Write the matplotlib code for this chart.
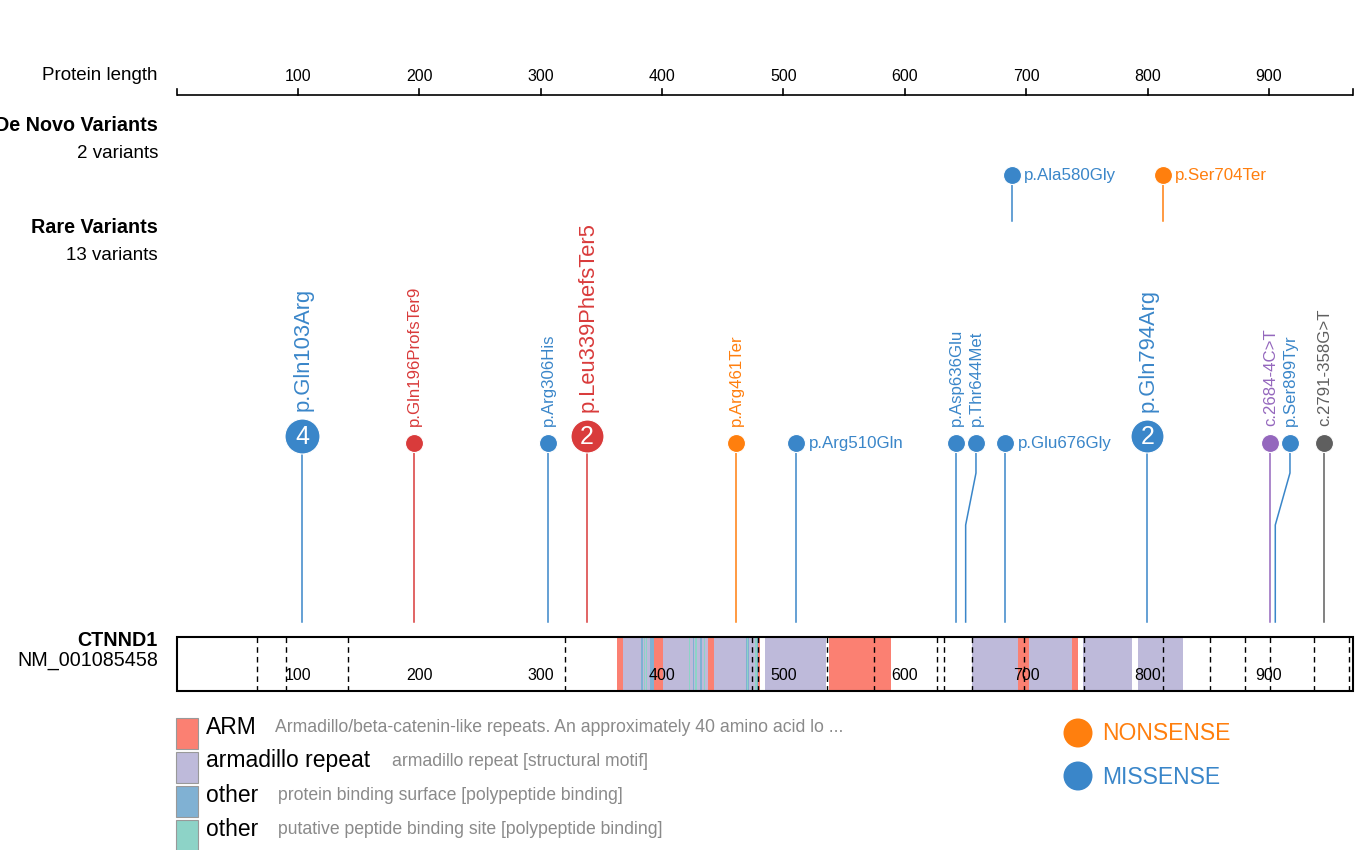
import matplotlib
matplotlib.use("Agg")
import matplotlib.pyplot as plt
from matplotlib.patches import Rectangle

plt.rcParams['font.family'] = ['Liberation Sans', 'DejaVu Sans']

# ---------------- data ----------------
PROTEIN_LENGTH = 969
GENE = "CTNND1"
TRANSCRIPT = "NM_001085458"
axis_ticks = [100, 200, 300, 400, 500, 600, 700, 800, 900]

arm_domains = [(362.6, 367.5), (393.6, 400.5), (437.5, 443.0), (478.6, 480.6),
               (537.8, 588.8), (693.4, 702.5), (737.9, 742.8)]
armadillo_repeats = [(362.6, 480.6), (484.8, 535.3), (655.5, 742.8),
                     (746.9, 787.3), (792.2, 829.3)]
binding_surface = [383.5, 391.0, 392.6, 425.8, 432.1, 469.5, 471.4, 478.0]
peptide_site = [385.4, 387.3, 422.5, 428.0, 434.8, 470.5, 477.2]
exon_boundaries = [66.0, 89.9, 141.1, 319.8, 473.8, 479.0, 535.8, 574.6,
                   626.8, 632.3, 655.4, 697.8, 747.6, 812.4, 851.1, 880.3,
                   900.9, 937.1, 966.0]

rare_labels = ["p.Gln103Arg", "p.Gln196ProfsTer9", "p.Arg306His",
               "p.Leu339PhefsTer5", "p.Arg461Ter", "p.Arg510Gln",
               "p.Asp636Glu", "p.Thr644Met", "p.Glu676Gly", "p.Gln794Arg",
               "c.2684-4C>T", "p.Ser899Tyr", "c.2791-358G>T"]
rare_positions = [103.3, 195.6, 306.0, 338.1, 460.9, 510.3,
                  642.1, 650.1, 682.3, 799.8, 901.1, 905.2, 945.1]
rare_head_positions = [103.3, 195.6, 306.0, 338.1, 460.9, 510.3,
                       642.1, 658.6, 682.3, 799.8, 901.1, 917.3, 945.1]
rare_counts = [4, 1, 1, 2, 1, 1, 1, 1, 1, 2, 1, 1, 1]
rare_types = ["missense", "frameshift", "missense", "frameshift", "nonsense",
              "missense", "missense", "missense", "missense", "missense",
              "splice", "missense", "intron"]
rare_horizontal = [False, False, False, False, False, True,
                   False, False, True, False, False, False, False]
RARE_VARIANT_TOTAL = 13

denovo_labels = ["p.Ala580Gly", "p.Ser704Ter"]
denovo_positions = [688.5, 812.8]
denovo_types = ["missense", "nonsense"]

domain_legend_names = ["ARM", "armadillo repeat", "other", "other"]
domain_legend_desc = ["Armadillo/beta-catenin-like repeats. An approximately 40 amino acid lo ...",
                      "armadillo repeat [structural motif]",
                      "protein binding surface [polypeptide binding]",
                      "putative peptide binding site [polypeptide binding]"]
type_legend = ["NONSENSE", "MISSENSE"]

# ---------------- styles ----------------
type_colors = {"missense": "#3a86c9", "frameshift": "#d93b3b",
               "nonsense": "#ff7f0e", "splice": "#9467bd", "intron": "#5f5f5f"}
domain_colors = ["#fb8072", "#bebada", "#80b1d3", "#8dd3c7"]

W, H = 1362, 850
X0, SCALE = 176.6, 1.21375   # pixel of residue 0, pixels per residue

fig = plt.figure(figsize=(W / 100, H / 100), dpi=100)
ax = fig.add_axes([0, 0, 1, 1])
ax.set_xlim(-X0 / SCALE, (W - X0) / SCALE)
ax.set_ylim(H, 0)
ax.axis('off')
axp = fig.add_axes([0, 0, 1, 1])
axp.set_xlim(0, W)
axp.set_ylim(H, 0)
axp.axis('off')
axp.patch.set_alpha(0)

# ---------------- top ruler ----------------
L = PROTEIN_LENGTH
ax.plot([0, L], [95, 95], color='black', lw=1.2, solid_capstyle='butt')
for t in [0] + axis_ticks + [L]:
    ax.plot([t, t], [89, 95], color='black', lw=1.2)
for t in axis_ticks:
    ax.text(t, 76, str(t), ha='center', va='center', fontsize=11.5)

# left labels
axp.text(158, 75, "Protein length", ha='right', va='center', fontsize=13.5)
axp.text(158, 125, "De Novo Variants", ha='right', va='center', fontsize=14.2, fontweight='bold')
axp.text(158, 153, f"{len(denovo_labels)} variants", ha='right', va='center', fontsize=13.5)
axp.text(158, 227, "Rare Variants", ha='right', va='center', fontsize=14.2, fontweight='bold')
axp.text(158, 255, f"{RARE_VARIANT_TOTAL} variants", ha='right', va='center', fontsize=13.5)
axp.text(158, 641, GENE, ha='right', va='center', fontsize=14.2, fontweight='bold')
axp.text(158, 660, TRANSCRIPT, ha='right', va='center', fontsize=14.2)

# ---------------- protein track ----------------
TY0, TY1 = 637, 691
ax.add_patch(Rectangle((0, TY0), L, TY1 - TY0, facecolor='white', edgecolor='none', zorder=1))
for s, e in armadillo_repeats:
    ax.add_patch(Rectangle((s, TY0), e - s, TY1 - TY0, facecolor=domain_colors[1],
                           edgecolor='none', zorder=2))
for p in binding_surface:
    ax.add_patch(Rectangle((p - 0.6, TY0), 1.2, TY1 - TY0, facecolor=domain_colors[2],
                           edgecolor='none', zorder=3))
for p in peptide_site:
    ax.add_patch(Rectangle((p - 0.6, TY0), 1.2, TY1 - TY0, facecolor=domain_colors[3],
                           edgecolor='none', zorder=3))
for s, e in arm_domains:
    ax.add_patch(Rectangle((s, TY0), e - s, TY1 - TY0, facecolor=domain_colors[0],
                           edgecolor='none', zorder=4))
for b in exon_boundaries:
    ax.plot([b, b], [TY0, TY1], color='black', lw=1.0, ls=(0, (4, 3)), zorder=5)
ax.add_patch(Rectangle((0, TY0), L, TY1 - TY0, facecolor='none', edgecolor='black',
                       lw=1.5, zorder=6))
for t in axis_ticks:
    ax.text(t, 676, str(t), ha='center', va='center', fontsize=11.5, zorder=7)

# ---------------- rare variants ----------------
STEM_BOTTOM = 622
for lab, pos, hpos, cnt, typ, horiz in zip(rare_labels, rare_positions, rare_head_positions,
                                           rare_counts, rare_types, rare_horizontal):
    c = type_colors[typ]
    big = cnt > 1
    hy = 436 if big else 443
    r = (17.5 if cnt > 2 else 16.5) if big else 9
    ax.plot([hpos, hpos, pos, pos], [hy, 473, 525, STEM_BOTTOM], color=c, lw=1.1, zorder=2)
    ax.scatter([hpos], [hy], s=(2 * r * 0.72) ** 2, color=c, edgecolors='white',
               linewidths=0.8, zorder=5)
    if big:
        ax.text(hpos, hy + 1, str(cnt), color='white', ha='center', va='center',
                fontsize=18, zorder=6)
    if horiz:
        ax.annotate(lab, (hpos, hy), xytext=(r * 0.72 + 3, 0), textcoords='offset points',
                    color=c, ha='left', va='center', fontsize=12.2)
    else:
        ax.annotate(lab, (hpos, hy), xytext=(0.5, r * 0.72 + 5.5), textcoords='offset points',
                    color=c, ha='center', va='bottom', rotation=90,
                    fontsize=15.8 if big else 12.1)

# ---------------- de novo variants ----------------
for lab, pos, typ in zip(denovo_labels, denovo_positions, denovo_types):
    c = type_colors[typ]
    ax.plot([pos, pos], [175, 221], color=c, lw=1.1, zorder=2)
    ax.scatter([pos], [175], s=(18 * 0.72) ** 2, color=c, edgecolors='white',
               linewidths=0.8, zorder=5)
    ax.annotate(lab, (pos, 175), xytext=(8.5, 0), textcoords='offset points',
                color=c, ha='left', va='center', fontsize=12.2)

# ---------------- legends ----------------
leg_y = [718, 752, 786, 820]
name_x = 206
desc_offsets = {"ARM": 69, "armadillo repeat": 186, "other": 72}
for y, col, name, desc in zip(leg_y, domain_colors, domain_legend_names, domain_legend_desc):
    axp.add_patch(Rectangle((176, y), 22, 31, facecolor=col, edgecolor='#999999', lw=0.8))
    axp.text(name_x, y + 9, name, ha='left', va='center', fontsize=16.5, color='black')
    axp.text(name_x + desc_offsets[name], y + 10, desc, ha='left', va='center',
             fontsize=12.7, color='#8a8a8a')

for y, lab in zip([733, 776], type_legend):
    c = type_colors[lab.lower()]
    axp.scatter([1078], [y], s=(29 * 0.72) ** 2, color=c, edgecolors='none')
    axp.text(1102, y + 1, lab, ha='left', va='center', fontsize=16.5, color=c)

fig.savefig("out.png", dpi=100)
